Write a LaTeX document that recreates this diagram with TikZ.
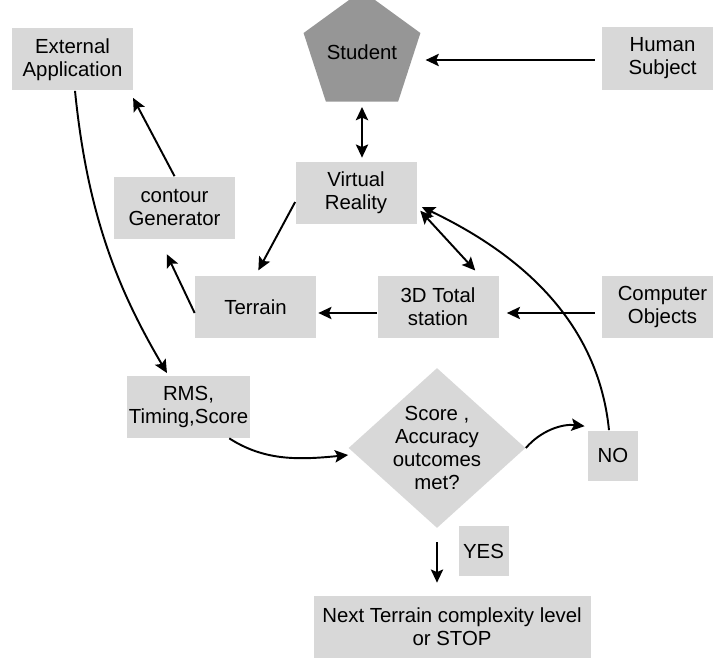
\documentclass[tikz,border=0pt]{standalone}
\usepackage{fontspec}
\setmainfont{Liberation Sans}
\usetikzlibrary{shapes.geometric,arrows.meta}

\definecolor{boxgray}{RGB}{216,216,216}
\definecolor{pentagray}{RGB}{150,150,150}

\begin{document}
\begin{tikzpicture}[
            font=\fontsize{11.6}{13}\selectfont,
            >={Stealth[length=7.5pt,width=7pt,inset=1.5pt]},
            box/.style={fill=boxgray, minimum width=2.42cm, minimum height=1.24cm, inner sep=1pt, align=center},
            tag/.style={fill=boxgray, minimum width=1cm, minimum height=1cm, inner sep=1pt},
            penta/.style={regular polygon, regular polygon sides=5, minimum size=1.88cm, inner sep=0pt, fill=pentagray},
            dia/.style={diamond, fill=boxgray, minimum width=3.54cm, minimum height=3.2cm, inner sep=0pt},
            arr/.style={line width=1.1pt, ->},
            both/.style={line width=1.1pt, <->}
        ]
            \useasboundingbox (0,0) rectangle (14.26,13.18);

            \node[box] (ext) at (1.45,11.99) {External\\Application};
            \node[penta] (student) at (7.24,12.14) {Student};
            \node[box, minimum height=1.26cm] (human) at (13.25,12.01) {Human\\Subject};

            \node[box] (contour) at (3.49,9.03) {contour\\Generator};
            \node[box] (vr) at (7.12,9.32) {Virtual\\Reality};

            \node[box] (terrain) at (5.11,7.04) {Terrain};
            \node[box] (ts) at (8.76,7.04) {3D Total\\station};
            \node[box] (comp) at (13.25,7.04) {Computer\\Objects};

            \node[box] (rms) at (3.77,5.04) {RMS,\\Timing,Score};
            \node[dia, label={[align=center]center:Score ,\\Accuracy\\outcomes\\met?}] (dec) at (8.74,4.22) {};
            \node[tag] (no) at (12.26,4.07) {NO};

            \node[tag] (yes) at (9.67,2.16) {YES};
            \node[box, minimum width=5.54cm] (next) at (9.04,0.64) {Next Terrain complexity level\\or STOP};

            \draw[arr, shorten <=0.14cm, shorten >=0.22cm] ([yshift=-0.03cm]human.west) -- ([yshift=-0.03cm]human.west -| student.east);
            \draw[both, shorten <=0.1cm, shorten >=0.08cm] (student.south) -- (student.south |- vr.north);
            \draw[arr, shorten >=0.12cm] ([yshift=-0.18cm]vr.west) -- (terrain.north);
            \draw[both, shorten <=0.1cm, shorten >=0.14cm] ([yshift=-0.28cm]vr.east) -- ([xshift=0.84cm]ts.north);
            \draw[arr, shorten >=0.04cm] ([yshift=-0.12cm]ts.west) -- ([yshift=-0.12cm]terrain.east);
            \draw[arr, shorten <=0.14cm, shorten >=0.16cm] ([yshift=-0.12cm]comp.west) -- ([yshift=-0.12cm]ts.east);
            \draw[arr, shorten >=0.34cm] ([yshift=-0.12cm]terrain.west) -- ([xshift=-0.3cm]contour.south);
            \draw[arr, shorten >=0.16cm] (contour.north) -- ([xshift=-0.08cm]ext.south east);

            \draw[arr, shorten >=0.06cm] ([xshift=0.05cm]ext.south) .. controls +(0.25,-2.5) and +(-1.0,1.7) .. ([xshift=-0.4cm]rms.north);
            \draw[arr] ([xshift=-0.42cm]rms.south east) .. controls +(0.7,-0.45) and +(-1.0,-0.1) .. ([yshift=-0.14cm]dec.west);
            \draw[arr] (dec.east) .. controls +(0.3,0.35) and +(-0.45,0.05) .. ([xshift=-0.06cm,yshift=0.08cm]no.north west);
            \draw[arr] ([xshift=-0.08cm]no.north) .. controls +(-0.2,2.0) and +(2.2,-1.05) .. ([xshift=0.1cm,yshift=-0.28cm]vr.east);
            \draw[arr, shorten <=0.28cm, shorten >=0.26cm] (dec.south) -- (dec.south |- next.north);

\end{tikzpicture}
\end{document}
